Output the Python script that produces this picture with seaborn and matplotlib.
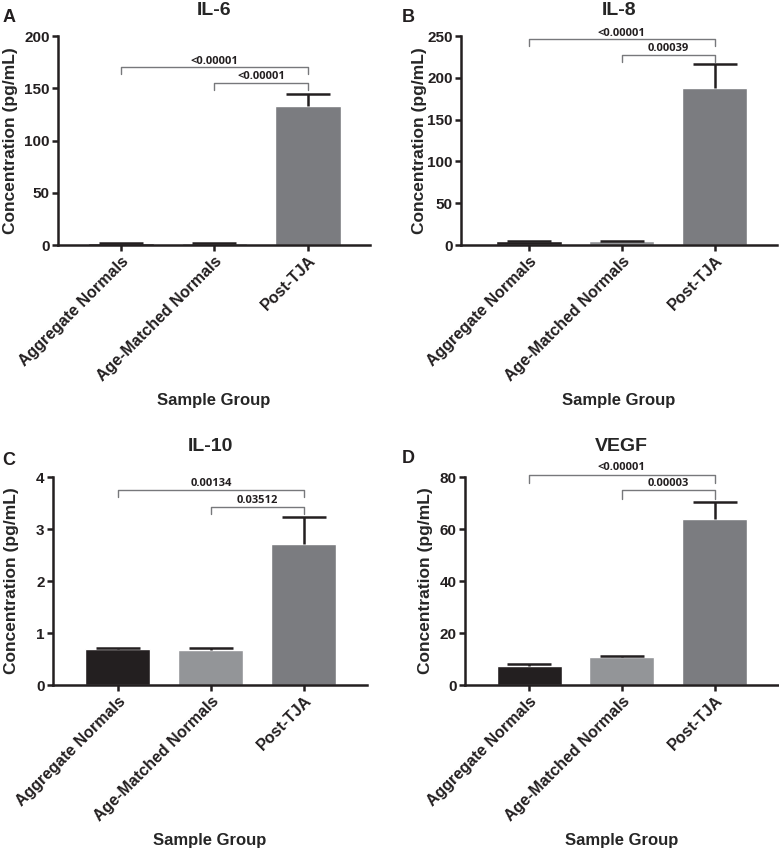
import numpy as np
import pandas as pd
import matplotlib
matplotlib.use("Agg")
import matplotlib.pyplot as plt
import seaborn as sns

sns.set_style("ticks")
plt.rcParams['font.family'] = ['Liberation Sans', 'DejaVu Sans']
plt.rcParams['font.weight'] = 'bold'

# data
groups = ["Aggregate Normals", "Age-Matched Normals", "Post-TJA"]
bar_colors = ["#231f20", "#939598", "#7b7c80"]

il6_mean = [2.0, 2.0, 133.0]
il6_err = [0.3, 0.3, 12.0]
il8_mean = [4.5, 4.5, 188.0]
il8_err = [0.4, 0.4, 28.0]
il10_mean = [0.69, 0.68, 2.71]
il10_err = [0.02, 0.03, 0.53]
vegf_mean = [7.5, 10.7, 63.8]
vegf_err = [0.4, 0.6, 6.7]

titles = ["IL-6", "IL-8", "IL-10", "VEGF"]
letters = ["A", "B", "C", "D"]
ymax = [200, 250, 4, 80]
ystep = [50, 50, 1, 20]
# p-values: (Aggregate vs Post-TJA, Age-Matched vs Post-TJA)
pvals = [("<0.00001", "<0.00001"), ("<0.00001", "0.00039"),
         ("0.00134", "0.03512"), ("<0.00001", "0.00003")]
# bracket heights (data units): (top bracket, lower bracket, tick drop)
brackets = [(170, 155, 6.5), (246, 227, 8), (3.75, 3.42, 0.13), (81, 75, 3.3)]

means = [il6_mean, il8_mean, il10_mean, vegf_mean]
errs = [il6_err, il8_err, il10_err, vegf_err]

fig = plt.figure(figsize=(7.79, 8.52), dpi=100)
positions = [[0.0745, 0.7124, 0.4005, 0.2453],
             [0.592, 0.7124, 0.4056, 0.2453],
             [0.068, 0.196, 0.403, 0.244],
             [0.597, 0.196, 0.4015, 0.244]]
xlims = [(-0.67, 2.66), (-0.73, 2.67), (-0.70, 2.68), (-0.69, 2.68)]
ylab_x = [-0.128, -0.108, -0.108, -0.103]
title_pad = [15, 15, 19, 19]
letter_pos = [(0.003, 0.989), (0.516, 0.989), (0.003, 0.470), (0.516, 0.472)]

for i in range(4):
    ax = fig.add_axes(positions[i])
    df = pd.DataFrame({"group": groups, "value": means[i]})
    sns.barplot(data=df, x="group", y="value", hue="group", palette=bar_colors,
                legend=False, width=0.7, ax=ax, errorbar=None, saturation=1)
    # upward-only SEM bars (hide the cap at the bar top)
    eb = ax.errorbar(range(3), means[i], yerr=[np.zeros(3), errs[i]], fmt="none",
                     ecolor="#231f20", elinewidth=1.8, capsize=16, capthick=1.8)
    eb[1][0].set_visible(False)
    ax.set_xlim(*xlims[i])
    ax.set_ylim(0, ymax[i])
    yt = np.arange(0, ymax[i] + ystep[i] / 2, ystep[i])
    ax.set_yticks(yt)
    ax.set_yticklabels([f"{v:g}" for v in yt])
    sns.despine(ax=ax)
    for s in ["left", "bottom"]:
        ax.spines[s].set_linewidth(1.8)
        ax.spines[s].set_color("#231f20")
    ax.tick_params(width=1.8, length=4.5, colors="#231f20", pad=1.5)
    ax.tick_params(axis="y", labelsize=11)
    ax.set_xticks(range(3))
    ax.set_xticklabels(groups, rotation=45, ha="right", rotation_mode="anchor",
                       fontsize=11.5, fontweight="bold")
    for lab in ax.get_yticklabels():
        lab.set_fontweight("bold")
    ax.set_xlabel("Sample Group", fontsize=12, fontweight="bold", labelpad=7)
    ax.set_ylabel("Concentration (pg/mL)", fontsize=12.5, fontweight="bold")
    ax.yaxis.set_label_coords(ylab_x[i], 0.5)
    ax.set_title(titles[i], fontsize=14, fontweight="bold", pad=title_pad[i])

    # significance brackets
    top, low, drop = brackets[i]
    for (x0, x1, h, txt) in [(0, 2, top, pvals[i][0]), (1, 2, low, pvals[i][1])]:
        ax.plot([x0, x0, x1, x1], [h - drop, h, h, h - drop], color="#77787b",
                lw=1.0, clip_on=False)
        ax.text((x0 + x1) / 2, h + drop * 0.12, txt, ha="center", va="bottom",
                fontsize=8, fontweight="bold", family=["Open Sans", "DejaVu Sans"],
                color="#231f20")

    fig.text(letter_pos[i][0], letter_pos[i][1], letters[i], fontsize=13,
             fontweight="bold", va="top", color="#231f20")

fig.savefig("out.png", dpi=100)
